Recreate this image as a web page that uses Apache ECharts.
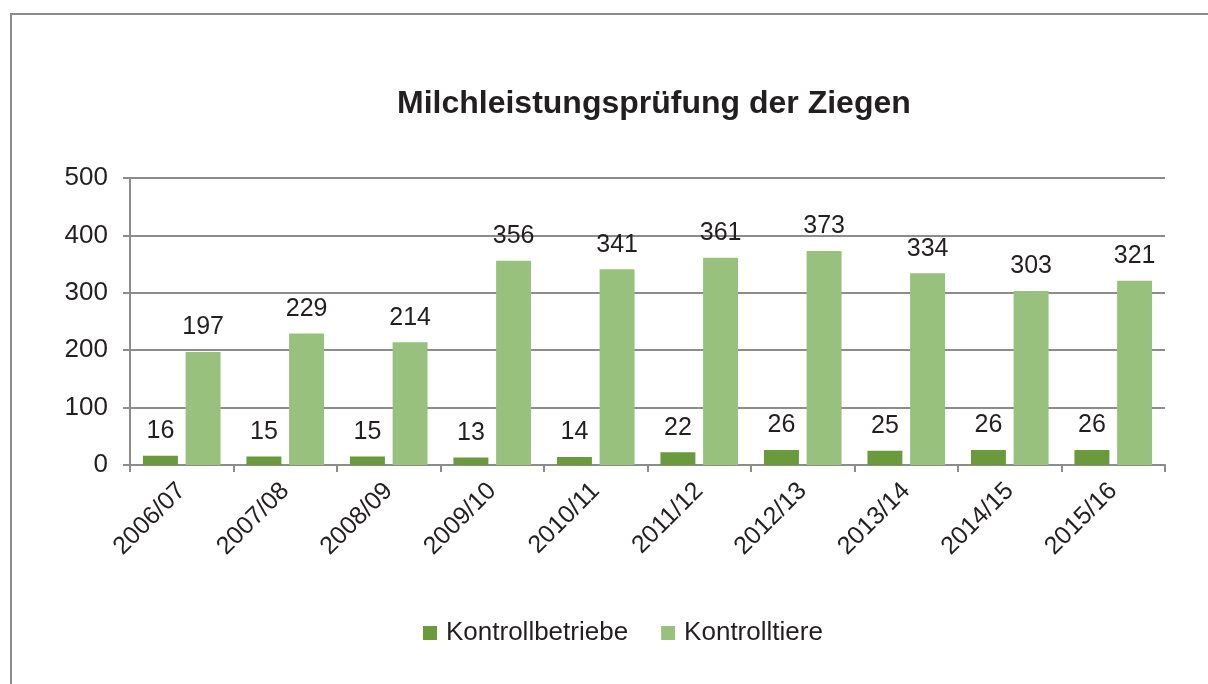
<!DOCTYPE html>
<html>
<head>
<meta charset="utf-8">
<script src="https://cdn.jsdelivr.net/npm/echarts@6/dist/echarts.min.js"></script>
<style>
  html, body { margin: 0; padding: 0; background: #fff; }
  #chart { width: 1208px; height: 684px; }
</style>
</head>
<body>
<div id="chart"></div>
<script>
const seasons = ['2006/07', '2007/08', '2008/09', '2009/10', '2010/11', '2011/12', '2012/13', '2013/14', '2014/15', '2015/16'];
const betriebe = [16, 15, 15, 13, 14, 22, 26, 25, 26, 26];
const tiere = [197, 229, 214, 356, 341, 361, 373, 334, 303, 321];
const yTicks = [0, 100, 200, 300, 400, 500];

const font = 'Liberation Sans, Arial, sans-serif';

const chart = echarts.init(document.getElementById('chart'));

const barLabel = {
  show: true,
  position: 'top',
  distance: 12,
  color: '#231f20',
  fontSize: 25,
  fontFamily: font
};

chart.setOption({
  animation: false,
  title: {
    text: 'Milchleistungsprüfung der Ziegen',
    left: 392,
    top: 83,
    textStyle: { fontSize: 32, fontWeight: 'bold', color: '#231f20', fontFamily: font }
  },
  graphic: [{
    type: 'rect',
    shape: { x: 11, y: 14, width: 1230, height: 700 },
    style: { fill: 'none', stroke: '#8c8c8c', lineWidth: 2 },
    silent: true
  }],
  legend: {
    top: 615,
    left: 418,
    itemWidth: 14,
    itemHeight: 14,
    itemGap: 33,
    icon: 'rect',
    textStyle: { fontSize: 26, color: '#231f20', fontFamily: font, padding: [0, 0, 0, 4] },
    data: ['Kontrollbetriebe', 'Kontrolltiere']
  },
  grid: { left: 130, right: 43, top: 178, bottom: 219 },
  xAxis: {
    type: 'category',
    data: seasons,
    axisLine: { lineStyle: { color: '#8c8c8c', width: 2 } },
    axisTick: { show: true, length: 7, lineStyle: { color: '#8c8c8c', width: 2 } },
    axisLabel: {
      rotate: 45,
      fontSize: 25,
      color: '#231f20',
      fontFamily: font,
      margin: 22
    }
  },
  yAxis: {
    type: 'value',
    min: yTicks[0],
    max: yTicks[yTicks.length - 1],
    interval: 100,
    axisLine: { show: true, lineStyle: { color: '#8c8c8c', width: 2 } },
    axisTick: { show: true, length: 7, lineStyle: { color: '#8c8c8c', width: 2 } },
    splitLine: { lineStyle: { color: '#8c8c8c', width: 2 } },
    axisLabel: { fontSize: 26, color: '#231f20', fontFamily: font, margin: 22 }
  },
  series: [
    {
      name: 'Kontrollbetriebe',
      type: 'bar',
      data: betriebe,
      itemStyle: { color: '#699a3b' },
      barGap: '22%',
      barCategoryGap: '25%',
      label: barLabel
    },
    {
      name: 'Kontrolltiere',
      type: 'bar',
      data: tiere,
      itemStyle: { color: '#98c17e' },
      label: barLabel
    }
  ]
});
</script>
</body>
</html>
